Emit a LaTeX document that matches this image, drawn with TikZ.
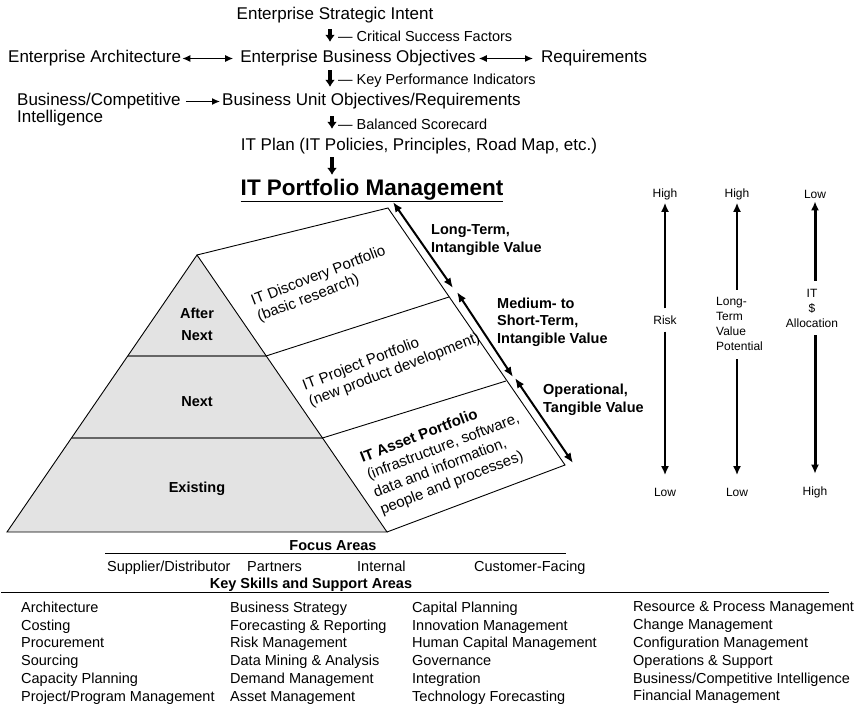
\documentclass[tikz,border=0pt]{standalone}
\usepackage{fontspec}
\setmainfont{Liberation Sans}
\usetikzlibrary{arrows.meta, positioning, calc}

\begin{document}
\begin{tikzpicture}[x=1pt, y=-1pt, every node/.style={inner sep=0pt},
    big/.style={font=\fontsize{17}{17}\selectfont},
    note/.style={font=\fontsize{14.5}{16}\selectfont, anchor=west},
    tag/.style={font=\bfseries\fontsize{14.5}{17.5}\selectfont, align=left, anchor=west},
    tier/.style={font=\bfseries\fontsize{14.5}{22.4}\selectfont, align=center},
    facetext/.style={font=\fontsize{15}{17.5}\selectfont, align=left, anchor=west, rotate=21},
    axlbl/.style={font=\fontsize{12}{15}\selectfont, align=center},
    focusitem/.style={font=\fontsize{14.5}{16}\selectfont, anchor=base west},
    skills/.style={font=\fontsize{14.5}{17.8}\selectfont, align=left, anchor=north west},
    flow/.style={-{Latex[length=7pt,width=10pt]}, line width=3.2pt},
    link/.style={line width=1.3pt, >={Latex[length=8pt,width=7pt]}},
    valuespan/.style={<->, line width=2pt, >={Latex[length=10pt,width=8pt]}},
    ruler/.style={->, line width=2.2pt, >={Latex[length=9pt,width=8pt]}}]
  \useasboundingbox (0,0) rectangle (862,706);

  % planning chain
  \node[big] (strat) at (335,15.5) {Enterprise Strategic Intent};
  \node[note] (csf) at (338,36) {--- Critical Success Factors};
  \node[big] (ebo) at (358,58.5) {Enterprise Business Objectives};
  \node[big, anchor=west] (ea) at (8,58.5) {Enterprise Architecture};
  \node[big, anchor=west] (req) at (541,58.5) {Requirements};
  \node[note] (kpi) at (338,81) {--- Key Performance Indicators};
  \node[big, anchor=west] (buo) at (222,101.5) {Business Unit Objectives/Requirements};
  \node[big, anchor=west, align=left] (bci) at (17,110) {Business/Competitive\\Intelligence};
  \node[note] (bsc) at (338,124) {--- Balanced Scorecard};
  \node[big] (plan) at (419,146.5) {IT Plan (IT Policies, Principles, Road Map, etc.)};
  \node[font=\bfseries\fontsize{22.5}{24}\selectfont, anchor=base] (itpm) at (372,195) {\underline{IT Portfolio Management}};

  \coordinate (spine) at (330,0);
  \coordinate (spine2) at (332,0);
  \draw[flow, shorten <=5.5pt, shorten >=8.5pt] (strat.south -| spine) -- (ebo.north -| spine);
  \draw[flow, shorten <=3.5pt, shorten >=6.5pt] (ebo.south -| spine) -- (buo.north -| spine);
  \draw[flow, shorten <=6.5pt, shorten >=9.5pt] (buo.south -| spine2) -- (plan.north -| spine2);
  \draw[flow, shorten <=2.5pt, shorten >=3.6pt] (plan.south -| spine2) -- (itpm.north -| spine2);

  \draw[link, <->, shorten <=1pt, shorten >=7pt] (ea.east) -- (ebo.west);
  \draw[link, <->, shorten <=3pt, shorten >=8pt] (ebo.east) -- (req.west);
  \draw[link, ->, shorten <=5pt, shorten >=2pt] (buo.west -| bci.east) -- (buo.west);

  % pyramid
  \coordinate (apex) at (197,255);
  \coordinate (bl) at (7,532);
  \coordinate (br) at (387,532);
  \coordinate (n1l) at (128,356);
  \coordinate (n1r) at (266,356);
  \coordinate (n2l) at (71.5,438);
  \coordinate (n2r) at (322.5,438);
  \coordinate (ftop) at (388,208);
  \coordinate (f1) at (449,297);
  \coordinate (f2) at (506,381);
  \coordinate (fbot) at (565,465);

  \fill[black!11] (apex) -- (bl) -- (br) -- cycle;
  \draw[black!60, line width=1.2pt] (n1l) -- (n1r) (n2l) -- (n2r);
  \draw[line width=0.9pt] (apex) -- (bl) -- (br) -- cycle;
  \draw[line width=0.9pt] (apex) -- (ftop) -- (fbot) -- (br);
  \draw[line width=0.9pt] (n1r) -- (f1) (n2r) -- (f2);

  \node[tier] (after) at (197,324.5) {After\\Next};
  \node[tier] (next) at (197,402) {Next};
  \node[tier] (exist) at (197,488.5) {Existing};

  \node[facetext] (disc) at (255,310) {IT Discovery Portfolio\\(basic research)};
  \node[facetext] (proj) at (306.5,395) {IT Project Portfolio\\(new product development)};
  \node[facetext, font=\fontsize{15}{18.5}\selectfont] (asset) at (371,485) {\textbf{IT Asset Portfolio}\\(infrastructure, software,\\data and information,\\people and processes)};

  % value horizons
  \coordinate (lt1) at (393,202);
  \coordinate (lt2) at (453,288);
  \coordinate (mt1) at (457,292);
  \coordinate (mt2) at (513,377);
  \coordinate (op1) at (515,378);
  \coordinate (op2) at (573,463);
  \draw[valuespan] (lt1) -- (lt2);
  \draw[valuespan] (mt1) -- (mt2);
  \draw[valuespan] (op1) -- (op2);

  \node[tag] (longv) at (431,240) {Long-Term,\\Intangible Value};
  \node[tag] (midv) at (497,322) {Medium- to\\Short-Term,\\Intangible Value};
  \node[tag] (opv) at (543,400) {Operational,\\Tangible Value};

  % scales
  \node[axlbl] (riskhi) at (665,194) {High};
  \node[axlbl] (risklo) at (665,492) {Low};
  \node[axlbl, inner ysep=7pt] (risk) at (665,320) {Risk};
  \node[axlbl] (valhi) at (737,194) {High};
  \node[axlbl] (vallo) at (737,492) {Low};
  \node[axlbl, align=left, anchor=west, inner ysep=8pt] (val) at (716,324.4) {Long-\\Term\\Value\\Potential};
  \node[axlbl] (allochi) at (815,194) {Low};
  \node[axlbl] (alloclo) at (815,492) {High};
  \node[axlbl, inner ysep=8pt] (alloc) at (812,308) {IT\\\$\\Allocation};

  \draw[ruler, shorten >=3pt] (risk.north) -- (riskhi.south);
  \draw[ruler, shorten >=12.5pt] (risk.south) -- (risklo.north);
  \draw[ruler, shorten >=3pt] (val.north -| valhi) -- (valhi.south);
  \draw[ruler, shorten >=12.5pt] (val.south -| vallo) -- (vallo.north);
  \draw[ruler, line width=3pt, shorten >=3pt] (alloc.north -| allochi) -- (allochi.south);
  \draw[ruler, line width=3pt, shorten >=12.5pt] (alloc.south -| alloclo) -- (alloclo.north);

  % focus areas and skills
  \node[font=\bfseries\fontsize{14.5}{16}\selectfont] (focus) at (333,546) {Focus Areas};
  \draw[line width=0.9pt] (105,553) -- (566,553);
  \node[focusitem] (supp) at (107,571) {Supplier/Distributor};
  \node[focusitem] (partn) at (247,571) {Partners};
  \node[focusitem] (intern) at (357,571) {Internal};
  \node[focusitem] (cust) at (474,571) {Customer-Facing};

  \node[font=\bfseries\fontsize{14.5}{16}\selectfont] (keysk) at (311,585) {Key Skills and Support Areas};
  \draw[line width=0.9pt] (1,592) -- (829,592);

  \node[skills] (col1) at (21,601.6) {Architecture\\Costing\\Procurement\\Sourcing\\Capacity Planning\\Project/Program Management};
  \node[skills] (col2) at (230,601.6) {Business Strategy\\Forecasting \& Reporting\\Risk Management\\Data Mining \& Analysis\\Demand Management\\Asset Management};
  \node[skills] (col3) at (412,601.6) {Capital Planning\\Innovation Management\\Human Capital Management\\Governance\\Integration\\Technology Forecasting};
  \node[skills] (col4) at (633,601.6) {Resource \& Process Management\\Change Management\\Configuration Management\\Operations \& Support\\Business/Competitive Intelligence\\Financial Management};
\end{tikzpicture}
\end{document}
